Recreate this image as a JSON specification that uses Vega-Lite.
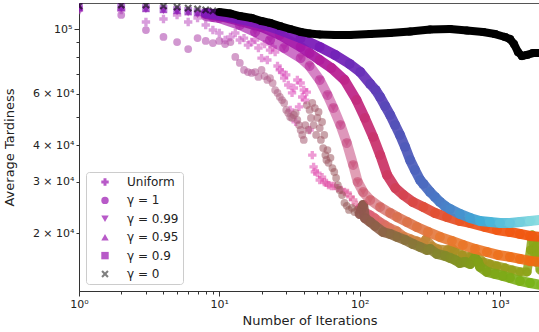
{
  "$schema": "https://vega.github.io/schema/vega-lite/v6.json",
  "width": 461,
  "height": 288,
  "autosize": "none",
  "padding": {"left": 79, "top": 3, "right": 0, "bottom": 41},
  "config": {
    "view": {"stroke": "#555555", "strokeWidth": 1},
    "font": "DejaVu Sans",
    "axis": {"grid": false, "domainColor": "#333333", "tickColor": "#333333", "labelColor": "#222222", "titleColor": "#222222", "labelFont": "DejaVu Sans", "titleFont": "DejaVu Sans", "titleFontWeight": "normal", "labelFontSize": 11, "titleFontSize": 13, "labelOverlap": false, "labelFlush": false}
  },
  "datasets": {
    "d": [
      {"s":"U","i":1,"v":116200},{"s":"U","i":2,"v":116200},{"s":"U","i":3,"v":105700},{"s":"U","i":4,"v":108200},{"s":"U","i":5,"v":111700},{"s":"U","i":6,"v":105700},{"s":"U","i":7,"v":109100},{"s":"U","i":8,"v":103200},{"s":"U","i":9,"v":99200},{"s":"U","i":10,"v":96900},
      {"s":"U","i":11,"v":91700},{"s":"U","i":12,"v":93900},{"s":"U","i":13,"v":96900},{"s":"U","i":14,"v":91700},{"s":"U","i":15,"v":93100},{"s":"U","i":16,"v":88100},{"s":"U","i":17,"v":90250},{"s":"U","i":18,"v":91700},{"s":"U","i":19,"v":86100},{"s":"U","i":20,"v":79500},
      {"s":"U","i":21,"v":88800},{"s":"U","i":22,"v":78300},{"s":"U","i":23,"v":84700},{"s":"U","i":24,"v":86800},{"s":"U","i":25,"v":83400},{"s":"U","i":26,"v":74700},{"s":"U","i":27,"v":72400},{"s":"U","i":28,"v":71200},{"s":"U","i":29,"v":67900},{"s":"U","i":30,"v":69600},
      {"s":"U","i":31,"v":64300},{"s":"U","i":32,"v":52800},{"s":"U","i":33,"v":60400},{"s":"U","i":34,"v":62800},{"s":"U","i":35,"v":48050},{"s":"U","i":36,"v":66900},{"s":"U","i":37,"v":54100},{"s":"U","i":38,"v":65300},{"s":"U","i":39,"v":58500},{"s":"U","i":40,"v":61800},
      {"s":"U","i":41,"v":57100},{"s":"U","i":42,"v":60800},{"s":"U","i":44,"v":45100},{"s":"U","i":46,"v":37000},{"s":"U","i":47,"v":33700},{"s":"U","i":48,"v":32400},{"s":"U","i":50,"v":32100},{"s":"U","i":52,"v":30400},{"s":"U","i":54,"v":31100},{"s":"U","i":56,"v":29900},
      {"s":"U","i":58,"v":29700},{"s":"U","i":60,"v":29200},{"s":"U","i":63,"v":29000},{"s":"U","i":66,"v":29000},{"s":"U","i":70,"v":28500},{"s":"U","i":74,"v":28100},{"s":"U","i":78,"v":27650},{"s":"U","i":82,"v":27440},{"s":"U","i":86,"v":26600},{"s":"U","i":90,"v":25970},
      {"s":"U","i":95,"v":24960},{"s":"U","i":100,"v":24370},{"s":"U","i":109,"v":23610},{"s":"U","i":119,"v":23070},{"s":"U","i":129,"v":22530},{"s":"U","i":140,"v":21830},{"s":"U","i":152,"v":21330},{"s":"U","i":165,"v":20830},{"s":"U","i":185,"v":20340},{"s":"U","i":205,"v":19550},
      {"s":"U","i":232,"v":19090},{"s":"U","i":256,"v":18790},{"s":"U","i":285,"v":18500},{"s":"U","i":297,"v":19090},{"s":"U","i":328,"v":18070},{"s":"U","i":362,"v":17650},{"s":"U","i":420,"v":17510},{"s":"U","i":455,"v":17780},{"s":"U","i":479,"v":17370},{"s":"U","i":540,"v":16830},
      {"s":"U","i":612,"v":16570},{"s":"U","i":665,"v":16960},{"s":"U","i":758,"v":15930},{"s":"U","i":850,"v":15670},{"s":"U","i":953,"v":15430},{"s":"U","i":1087,"v":15190},{"s":"U","i":1220,"v":14950},{"s":"U","i":1391,"v":14720},{"s":"U","i":1560,"v":14720},{"s":"U","i":1650,"v":17510},
      {"s":"U","i":1700,"v":19700},{"s":"U","i":1750,"v":17780},{"s":"U","i":1800,"v":15930},{"s":"U","i":1870,"v":18940},{"s":"U","i":1930,"v":14950},

      {"s":"g1","i":1,"v":117100},{"s":"g1","i":2,"v":111700},{"s":"g1","i":3,"v":99200},{"s":"g1","i":4,"v":93900},{"s":"g1","i":5,"v":90250},{"s":"g1","i":6,"v":85400},{"s":"g1","i":7,"v":93100},{"s":"g1","i":8,"v":91000},{"s":"g1","i":9,"v":89500},{"s":"g1","i":10,"v":91000},
      {"s":"g1","i":11,"v":88800},{"s":"g1","i":12,"v":90250},{"s":"g1","i":13,"v":80200},{"s":"g1","i":14,"v":76500},{"s":"g1","i":15,"v":72400},{"s":"g1","i":16,"v":71200},{"s":"g1","i":17,"v":70700},{"s":"g1","i":18,"v":71200},{"s":"g1","i":19,"v":68500},{"s":"g1","i":20,"v":72400},
      {"s":"g1","i":21,"v":69000},{"s":"g1","i":22,"v":66900},{"s":"g1","i":23,"v":67900},{"s":"g1","i":24,"v":65300},{"s":"g1","i":25,"v":61800},{"s":"g1","i":26,"v":60400},{"s":"g1","i":27,"v":58500},{"s":"g1","i":28,"v":57100},{"s":"g1","i":29,"v":55800},{"s":"g1","i":30,"v":52800},
      {"s":"g1","i":31,"v":51600},{"s":"g1","i":32,"v":50000},{"s":"g1","i":33,"v":49600},{"s":"g1","i":34,"v":50800},{"s":"g1","i":35,"v":51600},{"s":"g1","i":36,"v":48800},{"s":"g1","i":37,"v":46900},{"s":"g1","i":38,"v":45100},{"s":"g1","i":39,"v":43350},{"s":"g1","i":40,"v":41700},
      {"s":"g1","i":41,"v":46900},{"s":"g1","i":42,"v":54900},{"s":"g1","i":43,"v":45100},{"s":"g1","i":44,"v":52800},{"s":"g1","i":45,"v":49600},{"s":"g1","i":46,"v":55800},{"s":"g1","i":47,"v":46900},{"s":"g1","i":48,"v":53600},{"s":"g1","i":49,"v":43350},{"s":"g1","i":50,"v":49600},
      {"s":"g1","i":51,"v":52000},{"s":"g1","i":52,"v":45800},{"s":"g1","i":53,"v":41700},{"s":"g1","i":54,"v":48050},{"s":"g1","i":55,"v":39100},{"s":"g1","i":56,"v":43350},{"s":"g1","i":57,"v":37000},{"s":"g1","i":58,"v":35600},{"s":"g1","i":59,"v":38500},{"s":"g1","i":60,"v":34800},
      {"s":"g1","i":62,"v":36200},{"s":"g1","i":64,"v":33400},{"s":"g1","i":66,"v":32400},{"s":"g1","i":68,"v":30900},{"s":"g1","i":70,"v":29200},{"s":"g1","i":72,"v":28100},{"s":"g1","i":75,"v":27000},{"s":"g1","i":78,"v":25400},{"s":"g1","i":81,"v":24800},{"s":"g1","i":84,"v":24000},
      {"s":"g1","i":88,"v":24400},{"s":"g1","i":92,"v":23600},{"s":"g1","i":96,"v":24000},{"s":"g1","i":100,"v":23250},{"s":"g1","i":106,"v":24960},{"s":"g1","i":109,"v":22530},{"s":"g1","i":119,"v":21830},{"s":"g1","i":129,"v":21160},{"s":"g1","i":147,"v":20180},{"s":"g1","i":165,"v":19860},
      {"s":"g1","i":185,"v":19400},{"s":"g1","i":211,"v":18940},{"s":"g1","i":240,"v":18350},{"s":"g1","i":270,"v":17920},{"s":"g1","i":302,"v":17510},{"s":"g1","i":318,"v":17650},{"s":"g1","i":356,"v":16960},{"s":"g1","i":406,"v":16700},{"s":"g1","i":441,"v":16440},{"s":"g1","i":479,"v":16180},
      {"s":"g1","i":519,"v":15800},{"s":"g1","i":564,"v":15930},{"s":"g1","i":612,"v":15670},{"s":"g1","i":665,"v":16440},{"s":"g1","i":698,"v":15930},{"s":"g1","i":722,"v":15310},{"s":"g1","i":810,"v":14720},{"s":"g1","i":923,"v":14490},{"s":"g1","i":1052,"v":14260},{"s":"g1","i":1180,"v":14040},
      {"s":"g1","i":1391,"v":13710},{"s":"g1","i":1639,"v":13490},{"s":"g1","i":1930,"v":13290},

      {"s":"g99","i":1,"v":117100},{"s":"g99","i":2,"v":117100},{"s":"g99","i":3,"v":116200},{"s":"g99","i":4,"v":115300},{"s":"g99","i":5,"v":114300},{"s":"g99","i":6,"v":113400},{"s":"g99","i":7,"v":111700},{"s":"g99","i":8,"v":110800},{"s":"g99","i":9,"v":109900},{"s":"g99","i":10,"v":109100},
      {"s":"g99","i":14,"v":103200},{"s":"g99","i":18,"v":97700},{"s":"g99","i":23,"v":91700},{"s":"g99","i":29,"v":86100},{"s":"g99","i":38,"v":79500},{"s":"g99","i":44,"v":74700},{"s":"g99","i":52,"v":66900},{"s":"g99","i":59,"v":59430},{"s":"g99","i":65,"v":53640},{"s":"g99","i":73,"v":46930},
      {"s":"g99","i":81,"v":40710},{"s":"g99","i":90,"v":34220},{"s":"g99","i":97,"v":29920},{"s":"g99","i":106,"v":27650},{"s":"g99","i":119,"v":25970},{"s":"g99","i":140,"v":24570},{"s":"g99","i":165,"v":23440},{"s":"g99","i":185,"v":22710},{"s":"g99","i":218,"v":21830},{"s":"g99","i":256,"v":20990},
      {"s":"g99","i":307,"v":20180},{"s":"g99","i":374,"v":19400},{"s":"g99","i":455,"v":18790},{"s":"g99","i":545,"v":18210},{"s":"g99","i":665,"v":17650},{"s":"g99","i":809,"v":17230},{"s":"g99","i":969,"v":16830},{"s":"g99","i":1180,"v":16570},{"s":"g99","i":1391,"v":16310},{"s":"g99","i":1639,"v":16050},
      {"s":"g99","i":1930,"v":15930},

      {"s":"g95","i":1,"v":118000},{"s":"g95","i":2,"v":118000},{"s":"g95","i":3,"v":117100},{"s":"g95","i":4,"v":116200},{"s":"g95","i":5,"v":115300},{"s":"g95","i":6,"v":114300},{"s":"g95","i":7,"v":113400},{"s":"g95","i":8,"v":112600},{"s":"g95","i":9,"v":111700},{"s":"g95","i":10,"v":110800},
      {"s":"g95","i":14,"v":106500},{"s":"g95","i":20,"v":101600},{"s":"g95","i":27,"v":95400},{"s":"g95","i":38,"v":86800},{"s":"g95","i":44,"v":82700},{"s":"g95","i":52,"v":78300},{"s":"g95","i":63,"v":73500},{"s":"g95","i":78,"v":66900},{"s":"g95","i":95,"v":57100},{"s":"g95","i":109,"v":49580},
      {"s":"g95","i":125,"v":42670},{"s":"g95","i":140,"v":37030},{"s":"g95","i":157,"v":31620},{"s":"g95","i":180,"v":28530},{"s":"g95","i":205,"v":27010},{"s":"g95","i":240,"v":25560},{"s":"g95","i":285,"v":24570},{"s":"g95","i":345,"v":23440},{"s":"g95","i":420,"v":22710},{"s":"g95","i":519,"v":22010},
      {"s":"g95","i":612,"v":21660},{"s":"g95","i":783,"v":20990},{"s":"g95","i":953,"v":20500},{"s":"g95","i":1180,"v":20180},{"s":"g95","i":1391,"v":19860},{"s":"g95","i":1639,"v":19550},{"s":"g95","i":1930,"v":19400},

      {"s":"g9","i":1,"v":119000},{"s":"g9","i":2,"v":119000},{"s":"g9","i":3,"v":118000},{"s":"g9","i":4,"v":117100},{"s":"g9","i":5,"v":116200},{"s":"g9","i":6,"v":115300},{"s":"g9","i":7,"v":114300},{"s":"g9","i":8,"v":113400},{"s":"g9","i":9,"v":112600},{"s":"g9","i":10,"v":111700},
      {"s":"g9","i":14,"v":108200},{"s":"g9","i":20,"v":104000},{"s":"g9","i":27,"v":99200},{"s":"g9","i":38,"v":93100},{"s":"g9","i":52,"v":86800},{"s":"g9","i":67,"v":81500},{"s":"g9","i":85,"v":75900},{"s":"g9","i":101,"v":71200},{"s":"g9","i":119,"v":64800},{"s":"g9","i":130,"v":61800},
      {"s":"g9","i":140,"v":58500},{"s":"g9","i":152,"v":54500},{"s":"g9","i":165,"v":50800},{"s":"g9","i":179,"v":46930},{"s":"g9","i":194,"v":43350},{"s":"g9","i":211,"v":39440},{"s":"g9","i":229,"v":35600},{"s":"g9","i":248,"v":32900},{"s":"g9","i":270,"v":30400},{"s":"g9","i":285,"v":29450},
      {"s":"g9","i":318,"v":27650},{"s":"g9","i":345,"v":26590},{"s":"g9","i":374,"v":25560},{"s":"g9","i":406,"v":24760},{"s":"g9","i":441,"v":24190},{"s":"g9","i":519,"v":23250},{"s":"g9","i":612,"v":22530},{"s":"g9","i":722,"v":22010},{"s":"g9","i":850,"v":21830},{"s":"g9","i":1002,"v":21660},
      {"s":"g9","i":1180,"v":21660},{"s":"g9","i":1391,"v":21830},{"s":"g9","i":1639,"v":22010},{"s":"g9","i":1930,"v":22180},

      {"s":"g0","i":1,"v":120000},{"s":"g0","i":2,"v":120800},{"s":"g0","i":3,"v":120800},{"s":"g0","i":4,"v":119900},{"s":"g0","i":5,"v":118900},{"s":"g0","i":6,"v":118000},{"s":"g0","i":7,"v":117100},{"s":"g0","i":8,"v":116200},{"s":"g0","i":9,"v":115300},{"s":"g0","i":10,"v":114300},
      {"s":"g0","i":12,"v":113000},{"s":"g0","i":14,"v":110800},{"s":"g0","i":17,"v":109100},{"s":"g0","i":20,"v":106500},{"s":"g0","i":23,"v":104900},{"s":"g0","i":27,"v":102400},{"s":"g0","i":32,"v":100000},{"s":"g0","i":38,"v":97700},{"s":"g0","i":44,"v":96500},{"s":"g0","i":52,"v":95800},
      {"s":"g0","i":67,"v":95400},{"s":"g0","i":85,"v":95400},{"s":"g0","i":119,"v":96100},{"s":"g0","i":165,"v":96900},{"s":"g0","i":229,"v":98000},{"s":"g0","i":318,"v":99600},{"s":"g0","i":441,"v":100000},{"s":"g0","i":583,"v":98800},{"s":"g0","i":758,"v":97700},{"s":"g0","i":923,"v":96100},
      {"s":"g0","i":1087,"v":93900},{"s":"g0","i":1180,"v":92400},{"s":"g0","i":1260,"v":88800},{"s":"g0","i":1345,"v":83400},{"s":"g0","i":1437,"v":80800},{"s":"g0","i":1560,"v":81500},{"s":"g0","i":1722,"v":82700},{"s":"g0","i":1930,"v":82700}
    ]
  },
  "data": {"name": "d"},
  "encoding": {
    "x": {"field": "i", "type": "quantitative", "scale": {"type": "log", "domain": [1, 1931], "nice": false},
      "axis": {"title": "Number of Iterations", "titlePadding": 5,
        "values": [1,2,3,4,5,6,7,8,9,10,20,30,40,50,60,70,80,90,100,200,300,400,500,600,700,800,900,1000],
        "labelExpr": "datum.value == 1 ? '10⁰' : datum.value == 10 ? '10¹' : datum.value == 100 ? '10²' : datum.value == 1000 ? '10³' : ''",
        "tickSize": {"condition": {"test": "datum.value == 1 || datum.value == 10 || datum.value == 100 || datum.value == 1000", "value": 5}, "value": 3}}},
    "y": {"field": "v", "type": "quantitative", "scale": {"type": "log", "domain": [12665, 122760], "nice": false},
      "axis": {"title": "Average Tardiness", "titlePadding": 16,
        "values": [20000,30000,40000,50000,60000,70000,80000,90000,100000],
        "labelExpr": "datum.value == 100000 ? '10⁵' : datum.value == 60000 ? '6 × 10⁴' : datum.value == 40000 ? '4 × 10⁴' : datum.value == 30000 ? '3 × 10⁴' : datum.value == 20000 ? '2 × 10⁴' : ''",
        "tickSize": {"condition": {"test": "datum.value == 100000", "value": 5}, "value": 3}}}
  },
  "layer": [
    {"transform": [{"filter": "datum.s == 'U'"}, {"window": [{"op": "lead", "field": "i", "as": "i2"}, {"op": "lead", "field": "v", "as": "v2"}], "sort": [{"field": "i"}]}, {"filter": "datum.i2 != null && datum.i >= 100"}],
     "mark": {"type": "rule", "strokeWidth": 9, "strokeCap": "round", "opacity": 0.85, "clip": true},
     "encoding": {"x2": {"field": "i2"}, "y2": {"field": "v2"},
       "color": {"field": "i", "type": "quantitative", "legend": null, "scale": {"type": "log", "interpolate": "rgb", "domain": [1, 10, 40, 90, 200, 500, 1931], "range": ["#b048c0", "#c050c0", "#e048b8", "#e05090", "#d88048", "#a89020", "#88a818"]}}}},
    {"transform": [{"filter": "datum.s == 'U'"}],
     "mark": {"type": "point", "filled": true, "opacity": 0.55, "size": 70, "clip": true},
     "encoding": {
       "color": {"field": "i", "type": "quantitative", "legend": null, "scale": {"type": "log", "interpolate": "rgb", "domain": [1, 10, 40, 90, 200, 500, 1931], "range": ["#b048c0", "#c050c0", "#e048b8", "#e05090", "#d88048", "#a89020", "#88a818"]}},
       "shape": {"field": "s", "type": "nominal",
         "scale": {"domain": ["U", "g1", "g99", "g95", "g9", "g0"], "range": ["cross", "circle", "triangle-down", "triangle-up", "square", "M-1,-0.6L-0.6,-1L0,-0.4L0.6,-1L1,-0.6L0.4,0L1,0.6L0.6,1L0,0.4L-0.6,1L-1,0.6L-0.4,0Z"]},
         "legend": {"title": null, "orient": "none", "legendX": 7, "legendY": 169, "direction": "vertical",
           "fillColor": "rgba(255,255,255,0.85)", "strokeColor": "#cccccc", "cornerRadius": 3, "padding": 4,
           "symbolOffset": 9, "labelOffset": 16, "rowPadding": 6.4, "symbolSize": 55,
           "symbolFillColor": "#b85ac8", "symbolStrokeColor": "#b85ac8", "symbolStrokeWidth": 0, "symbolOpacity": 1,
           "labelFontSize": 12, "labelFont": "DejaVu Sans", "labelColor": "#222222",
           "labelExpr": "datum.value == 'U' ? 'Uniform' : datum.value == 'g1' ? 'γ = 1' : datum.value == 'g99' ? 'γ = 0.99' : datum.value == 'g95' ? 'γ = 0.95' : datum.value == 'g9' ? 'γ = 0.9' : 'γ = 0'",
           "encode": {"symbols": {"update": {"fill": {"signal": "datum.value == 'g0' ? '#808080' : '#b85ac8'"}, "opacity": {"value": 1}}}}}}}},
    {"transform": [{"filter": "datum.s == 'g1'"}, {"window": [{"op": "lead", "field": "i", "as": "i2"}, {"op": "lead", "field": "v", "as": "v2"}], "sort": [{"field": "i"}]}, {"filter": "datum.i2 != null && datum.i >= 100"}],
     "mark": {"type": "rule", "strokeWidth": 10, "strokeCap": "round", "opacity": 0.9, "clip": true},
     "encoding": {"x2": {"field": "i2"}, "y2": {"field": "v2"},
       "color": {"field": "i", "type": "quantitative", "legend": null, "scale": {"type": "log", "interpolate": "rgb", "domain": [1, 10, 25, 50, 100, 250, 700, 1931], "range": ["#a030b0", "#b048a8", "#b06088", "#a05868", "#905850", "#887838", "#80a018", "#78b818"]}}}},
    {"transform": [{"filter": "datum.s == 'g1'"}],
     "mark": {"type": "point", "filled": true, "opacity": 0.55, "size": 60, "clip": true},
     "encoding": {
       "color": {"field": "i", "type": "quantitative", "legend": null, "scale": {"type": "log", "interpolate": "rgb", "domain": [1, 10, 25, 50, 100, 250, 700, 1931], "range": ["#a030b0", "#b048a8", "#b06088", "#a05868", "#905850", "#887838", "#80a018", "#78b818"]}},
       "shape": {"field": "s", "type": "nominal", "legend": null}}},
    {"transform": [{"filter": "datum.s == 'g99'"}, {"window": [{"op": "lead", "field": "i", "as": "i2"}, {"op": "lead", "field": "v", "as": "v2"}], "sort": [{"field": "i"}]}, {"filter": "datum.i2 != null && datum.i >= 8"}],
     "mark": {"type": "rule", "strokeWidth": 10, "strokeCap": "round", "clip": true},
     "encoding": {"x2": {"field": "i2"}, "y2": {"field": "v2"},
       "opacity": {"field": "i", "type": "quantitative", "legend": null, "scale": {"type": "log", "domain": [1, 90, 200, 1931], "range": [0.85, 0.55, 0.9, 0.9]}},
       "color": {"field": "i", "type": "quantitative", "legend": null, "scale": {"type": "log", "interpolate": "rgb", "domain": [1, 30, 55, 90, 180, 400, 1931], "range": ["#9018b0", "#b020a8", "#c03898", "#c85078", "#d87050", "#e87a30", "#f06a10"]}}}},
    {"transform": [{"filter": "datum.s == 'g99'"}],
     "mark": {"type": "point", "filled": true, "opacity": 0.55, "size": 60, "clip": true},
     "encoding": {
       "color": {"field": "i", "type": "quantitative", "legend": null, "scale": {"type": "log", "interpolate": "rgb", "domain": [1, 30, 55, 90, 180, 400, 1931], "range": ["#9018b0", "#b020a8", "#c03898", "#c85078", "#d87050", "#e87a30", "#f06a10"]}},
       "shape": {"field": "s", "type": "nominal", "legend": null}}},
    {"transform": [{"filter": "datum.s == 'g95'"}, {"window": [{"op": "lead", "field": "i", "as": "i2"}, {"op": "lead", "field": "v", "as": "v2"}], "sort": [{"field": "i"}]}, {"filter": "datum.i2 != null && datum.i >= 8"}],
     "mark": {"type": "rule", "strokeWidth": 10, "strokeCap": "round", "opacity": 0.95, "clip": true},
     "encoding": {"x2": {"field": "i2"}, "y2": {"field": "v2"},
       "color": {"field": "i", "type": "quantitative", "legend": null, "scale": {"type": "log", "interpolate": "rgb", "domain": [1, 40, 80, 150, 300, 800, 1931], "range": ["#8a14b0", "#a818a8", "#c02888", "#cc3a64", "#e05038", "#f05a18", "#f05810"]}}}},
    {"transform": [{"filter": "datum.s == 'g95'"}],
     "mark": {"type": "point", "filled": true, "opacity": 0.55, "size": 60, "clip": true},
     "encoding": {
       "color": {"field": "i", "type": "quantitative", "legend": null, "scale": {"type": "log", "interpolate": "rgb", "domain": [1, 40, 80, 150, 300, 800, 1931], "range": ["#8a14b0", "#a818a8", "#c02888", "#cc3a64", "#e05038", "#f05a18", "#f05810"]}},
       "shape": {"field": "s", "type": "nominal", "legend": null}}},
    {"transform": [{"filter": "datum.s == 'g9'"}, {"window": [{"op": "lead", "field": "i", "as": "i2"}, {"op": "lead", "field": "v", "as": "v2"}], "sort": [{"field": "i"}]}, {"filter": "datum.i2 != null && datum.i >= 8"}],
     "mark": {"type": "rule", "strokeWidth": 10, "strokeCap": "round", "opacity": 0.95, "clip": true},
     "encoding": {"x2": {"field": "i2"}, "y2": {"field": "v2"},
       "color": {"field": "i", "type": "quantitative", "legend": null, "scale": {"type": "log", "interpolate": "rgb", "domain": [1, 50, 100, 200, 400, 750, 1931], "range": ["#8818b8", "#7a1cb8", "#6a30b8", "#5058b8", "#4a80c8", "#40b0d8", "#90e0e0"]}}}},
    {"transform": [{"filter": "datum.s == 'g9'"}],
     "mark": {"type": "point", "filled": true, "opacity": 0.55, "size": 60, "clip": true},
     "encoding": {
       "color": {"field": "i", "type": "quantitative", "legend": null, "scale": {"type": "log", "interpolate": "rgb", "domain": [1, 50, 100, 200, 400, 750, 1931], "range": ["#8818b8", "#7a1cb8", "#6a30b8", "#5058b8", "#4a80c8", "#40b0d8", "#90e0e0"]}},
       "shape": {"field": "s", "type": "nominal", "legend": null}}},
    {"transform": [{"filter": "datum.s == 'g0'"}, {"window": [{"op": "lead", "field": "i", "as": "i2"}, {"op": "lead", "field": "v", "as": "v2"}], "sort": [{"field": "i"}]}, {"filter": "datum.i2 != null && datum.i >= 10"}],
     "mark": {"type": "rule", "strokeWidth": 8, "strokeCap": "round", "color": "#000000", "clip": true},
     "encoding": {"x2": {"field": "i2"}, "y2": {"field": "v2"}}},
    {"transform": [{"filter": "datum.s == 'g0'"}],
     "mark": {"type": "point", "filled": true, "opacity": 0.6, "size": 60, "color": "#000000", "clip": true},
     "encoding": {"shape": {"field": "s", "type": "nominal", "legend": null}}}
  ],
  "resolve": {"scale": {"color": "independent"}}
}
